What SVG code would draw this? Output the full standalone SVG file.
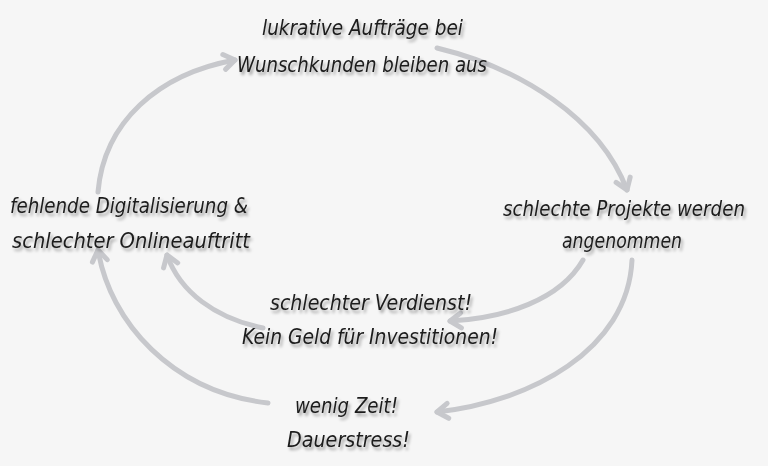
<svg xmlns="http://www.w3.org/2000/svg" width="768" height="466" viewBox="0 0 768 466">
  <style>
    .lbl { font-family: "DejaVu Sans Condensed", "DejaVu Sans", sans-serif; font-size: 22px; font-style: italic; fill: #1c1c1c; text-anchor: start; filter: url(#shadow); }
    .arr { fill: none; stroke: #c7c8cc; stroke-width: 5; stroke-linecap: round; marker-end: url(#head); }
  </style>
  <defs>
    <filter id="shadow" x="-10%" y="-40%" width="120%" height="180%">
      <feDropShadow dx="2" dy="3" stdDeviation="1.6" flood-color="#000" flood-opacity="0.35"/>
    </filter>
    <marker id="head" markerUnits="userSpaceOnUse" viewBox="-16 -12 20 24" refX="0" refY="0" markerWidth="20" markerHeight="24" orient="auto">
      <path d="M-11,-7.5 L0,0 L-11,7.5" fill="none" stroke="#c7c8cc" stroke-width="5" stroke-linecap="round" stroke-linejoin="round"/>
    </marker>
  </defs>
  <rect x="0" y="0" width="768" height="466" fill="#f6f6f6"/>

  <g id="connectors">
    <path class="arr" d="M437,48 C520,68 600,118 627,190"/>
    <path class="arr" d="M98,192 C104,122 158,74 235,60"/>
    <path class="arr" d="M583,260 C560,300 505,318 450,321"/>
    <path class="arr" d="M632,260 C628,350 530,402 437,412"/>
    <path class="arr" d="M263,328 C215,318 180,292 167,255"/>
    <path class="arr" d="M268,403 C172,392 110,322 98,250"/>
  </g>

  <g id="node-auftraege">
    <text class="lbl" x="262" y="35" textLength="201" lengthAdjust="spacingAndGlyphs">lukrative Aufträge bei</text>
    <text class="lbl" x="237" y="72" textLength="250" lengthAdjust="spacingAndGlyphs">Wunschkunden bleiben aus</text>
  </g>
  <g id="node-projekte">
    <text class="lbl" x="503" y="216" textLength="242" lengthAdjust="spacingAndGlyphs">schlechte Projekte werden</text>
    <text class="lbl" x="562" y="248" textLength="120" lengthAdjust="spacingAndGlyphs">angenommen</text>
  </g>
  <g id="node-verdienst">
    <text class="lbl" x="270" y="310" textLength="202" lengthAdjust="spacingAndGlyphs">schlechter Verdienst!</text>
    <text class="lbl" x="242" y="344" textLength="256" lengthAdjust="spacingAndGlyphs">Kein Geld für Investitionen!</text>
  </g>
  <g id="node-zeit">
    <text class="lbl" x="295" y="413" textLength="103" lengthAdjust="spacingAndGlyphs">wenig Zeit!</text>
    <text class="lbl" x="287" y="447" textLength="123" lengthAdjust="spacingAndGlyphs">Dauerstress!</text>
  </g>
  <g id="node-digital">
    <text class="lbl" x="10" y="213" textLength="238" lengthAdjust="spacingAndGlyphs">fehlende Digitalisierung &amp;</text>
    <text class="lbl" x="12" y="248" textLength="238" lengthAdjust="spacingAndGlyphs">schlechter Onlineauftritt</text>
  </g>
</svg>
